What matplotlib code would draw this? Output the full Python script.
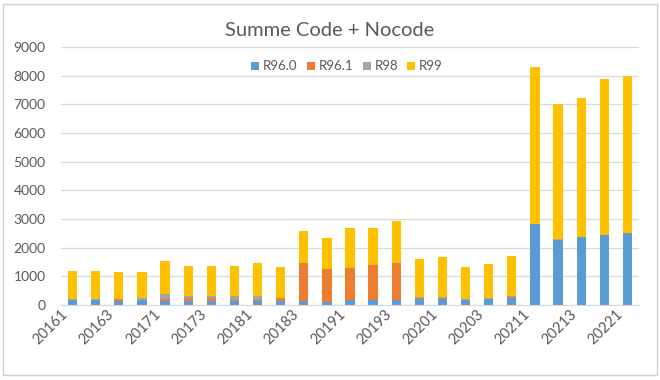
import numpy as np
import matplotlib.pyplot as plt
from matplotlib.patches import Rectangle

quarters = ['20161', '20162', '20163', '20164', '20171', '20172', '20173', '20174',
            '20181', '20182', '20183', '20184', '20191', '20192', '20193', '20194',
            '20201', '20202', '20203', '20204', '20211', '20212', '20213', '20214',
            '20221']
r96_0 = [175, 175, 130, 165, 150, 140, 150, 150, 150, 150, 150, 115, 180, 180, 180, 210,
         220, 170, 210, 255, 2830, 2280, 2370, 2430, 2510]
r96_1 = [10, 10, 70, 10, 50, 100, 90, 40, 30, 100, 1300, 1130, 1110, 1215, 1275, 40,
         15, 10, 15, 20, 0, 0, 0, 0, 0]
r98 = [10, 10, 10, 70, 175, 60, 70, 130, 150, 10, 20, 10, 10, 10, 10, 20,
       30, 30, 20, 30, 10, 10, 10, 10, 10]
r99 = [1005, 1005, 930, 920, 1145, 1045, 1035, 1025, 1150, 1050, 1120, 1095, 1400, 1295,
       1455, 1350, 1425, 1120, 1195, 1415, 5450, 4730, 4840, 5440, 5470]

series = [('R96.0', r96_0, '#5B9BD5'), ('R96.1', r96_1, '#ED7D31'),
          ('R98', r98, '#A5A5A5'), ('R99', r99, '#FFC000')]
text_col = '#595959'
grid_col = '#D9D9D9'
font = ['Lato', 'DejaVu Sans']

fig = plt.figure(figsize=(6.6, 3.8), dpi=100)
ax = fig.add_axes([61 / 660, 75 / 380, 578 / 660, 258 / 380])

x = np.arange(len(quarters))
bottom = np.zeros(len(quarters))
for name, vals, col in series:
    ax.bar(x, vals, 0.4, bottom=bottom, color=col, label=name, zorder=2)
    bottom += np.array(vals)

ax.set_xlim(-0.5, len(quarters) - 0.5)
ax.set_ylim(0, 9000)
ax.set_yticks(range(0, 9001, 1000))
ax.grid(axis='y', color=grid_col, linewidth=0.9, zorder=0)
for s in ['top', 'right', 'left']:
    ax.spines[s].set_visible(False)
ax.spines['bottom'].set_color(grid_col)
ax.tick_params(length=0, colors=text_col)
ax.tick_params(axis='y', pad=11)
ax.tick_params(axis='x', pad=5)
ax.set_xticks(x[::2] - 0.3)
ax.set_xticklabels(quarters[::2], rotation=45, ha='right', va='center',
                   rotation_mode='anchor', family=font, fontsize=10.5, color=text_col)
for lab in ax.get_yticklabels():
    lab.set_family(font)
    lab.set_fontsize(10)

leg = ax.legend(loc='center', bbox_to_anchor=(0.495, 0.925), ncol=4, frameon=False,
                handlelength=0.6, handleheight=0.6, handletextpad=0.3, columnspacing=0.7,
                prop={'family': font, 'size': 9.5})
for t in leg.get_texts():
    t.set_color(text_col)

fig.text(0.5, 0.92, 'Summe Code + Nocode', ha='center', va='center',
         family=font, fontsize=14.5, color=text_col)

# chart area border
fig.patches.append(Rectangle((3 / 660, 5 / 380), 654 / 660, 371 / 380, transform=fig.transFigure,
                             fill=False, edgecolor='#D0D0D0', linewidth=1))

fig.savefig('out.png', dpi=100)
